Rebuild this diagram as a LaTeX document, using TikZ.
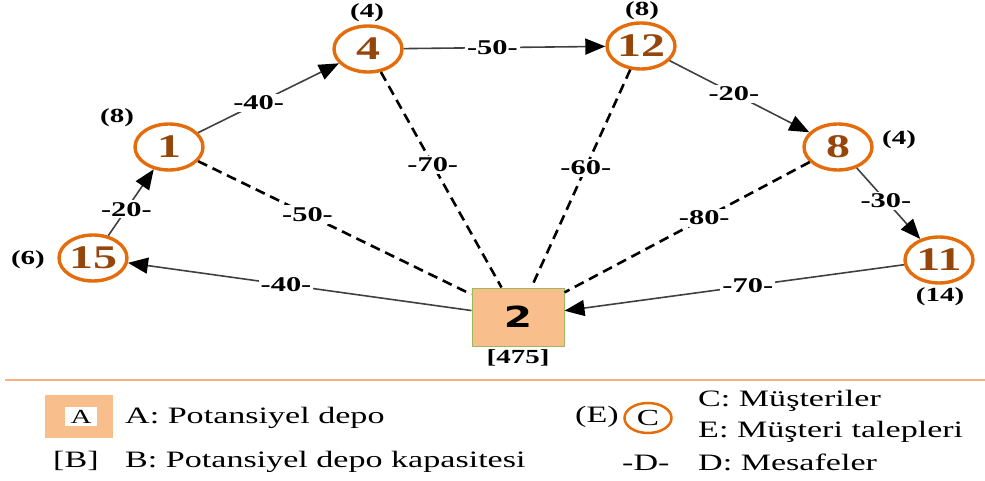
\documentclass[tikz,border=0pt]{standalone}
\usepackage{fontspec}
\usetikzlibrary{arrows.meta,shapes.geometric}
\newfontfamily\serifwide[FakeStretch=1.45]{Liberation Serif}
\newfontfamily\sanswide[FakeStretch=1.4]{DejaVu Sans}
\definecolor{custorange}{RGB}{228,108,10}
\definecolor{numbrown}{RGB}{150,70,10}
\definecolor{depotfill}{RGB}{248,190,140}
\definecolor{depotedge}{RGB}{155,187,89}
\definecolor{edgegray}{RGB}{64,64,64}
\definecolor{ruleorange}{RGB}{244,177,131}
\begin{document}
\begin{tikzpicture}[x=1pt,y=-1pt,
  customer/.style={ellipse, draw=custorange, line width=3.4pt, fill=white,
    minimum width=68pt, minimum height=46pt, inner sep=0pt, text=numbrown,
    font=\serifwide\bfseries\fontsize{33}{33}\selectfont},
  depot/.style={rectangle, draw=depotedge, line width=1pt, fill=depotfill,
    minimum width=92pt, minimum height=58pt,
    font=\sanswide\bfseries\fontsize{29}{29}\selectfont},
  route/.style={draw=edgegray, line width=1.6pt,
    -{Triangle[length=20pt,width=16pt,color=black]}},
  link/.style={draw=black, line width=2.6pt, dash pattern=on 10pt off 6pt},
  dist/.style={fill=white, inner sep=2pt,
    font=\serifwide\bfseries\fontsize{21}{21}\selectfont},
  demand/.style={inner sep=0pt, font=\serifwide\bfseries\fontsize{20}{20}\selectfont},
  legtext/.style={anchor=base west, inner sep=0pt,
    font=\serifwide\fontsize{23.5}{23.5}\selectfont},
]
\useasboundingbox (0,0) rectangle (985,481);

% customers and depot
\node[customer] (n1)  at (169,147) {1};
\node[customer] (n4)  at (368,49)  {4};
\node[customer] (n12) at (641,46)  {12};
\node[customer] (n8)  at (838,147) {8};
\node[customer] (n15) at (93,258)  {15};
\node[customer] (n11) at (939,260) {11};
\node[depot]    (dep) at (518,317) {2};

% demands and capacity
\node[demand] (d1)  at (117,118) {(8)};
\node[demand] (d4)  at (367,13)  {(4)};
\node[demand] (d12) at (642,11)  {(8)};
\node[demand] (d8)  at (899,140) {(4)};
\node[demand] (d15) at (28,260)  {(6)};
\node[demand] (d11) at (940,297) {(14)};
\node[demand] (cap) at (518,358) {[475]};

% candidate links to the depot
\path[link] (n1)  -- node[dist,pos=0.40] {-50-} (dep);
\path[link] (n4)  -- node[dist,pos=0.43] {-70-} (dep);
\path[link] (n12) -- node[dist,pos=0.45] {-60-} (dep);
\path[link] (n8)  -- node[dist,pos=0.43] {-80-} (dep);

% vehicle route
\path[route] (dep) -- node[dist,pos=0.54] {-40-} (n15);
\path[route] (n15) -- node[dist,pos=0.40] {-20-} (n1);
\path[route] (n1)  -- node[dist,pos=0.43] {-40-} (n4);
\path[route] (n4)  -- node[dist,pos=0.44] {-50-} (n12);
\path[route] (n12) -- node[dist,pos=0.46] {-20-} (n8);
\path[route] (n8)  -- node[dist,pos=0.46] {-30-} (n11);
\path[route] (n11) -- node[dist,pos=0.46] {-70-} (dep);

% legend
\draw[ruleorange, line width=2pt] (5,380) -- (985,380);
\node[rectangle, fill=depotfill, minimum width=68pt, minimum height=43pt,
  inner sep=0pt] (legA) at (79,416.5) {};
\node[fill=white, minimum width=32pt, minimum height=19pt, inner sep=0pt,
  font=\serifwide\fontsize{20}{20}\selectfont] (legAtxt) at (81,416.5) {A};
\node[legtext] (tA) at (125,423) {A: Potansiyel depo};
\node[legtext] (legB) at (53,467) {[B]};
\node[legtext] (tB) at (125,467) {B: Potansiyel depo kapasitesi};
\node[legtext] (legE) at (575,422) {(E)};
\node[ellipse, draw=custorange, line width=2.5pt, minimum width=47pt,
  minimum height=30pt, inner sep=0pt,
  font=\serifwide\fontsize{23}{23}\selectfont] (legC) at (648,418) {C};
\node[legtext] (tC) at (698,406) {C: Müşteriler};
\node[legtext] (tE) at (698,437) {E: Müşteri talepleri};
\node[legtext] (legD) at (622,470) {-D-};
\node[legtext] (tD) at (698,470) {D: Mesafeler};
\end{tikzpicture}
\end{document}
